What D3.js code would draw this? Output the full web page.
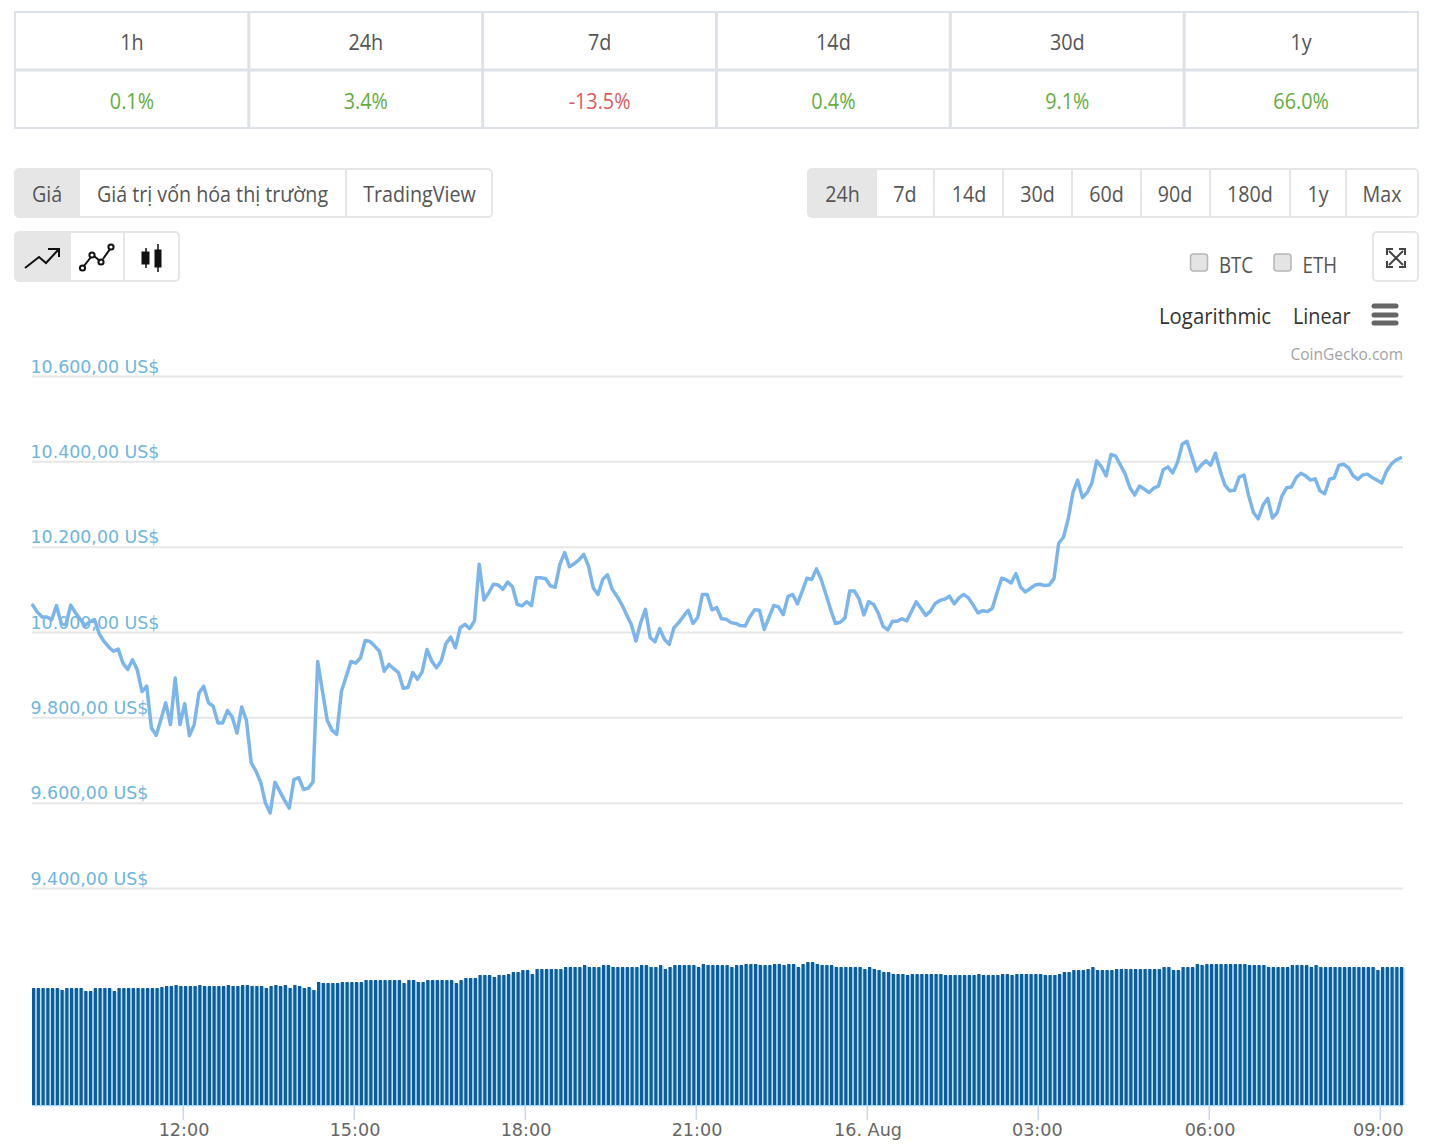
<!DOCTYPE html>
<html><head><meta charset="utf-8">
<script src="https://cdn.jsdelivr.net/npm/d3@7"></script>
<style>html,body{margin:0;padding:0;background:#fff;overflow:hidden}svg{display:block}</style>
</head><body><svg id="c" width="1429" height="1147"></svg>
<script>
const periods=["1h","24h","7d","14d","30d","1y"];
const changes=[0.1,3.4,-13.5,0.4,9.1,66.0];
const viewTabs=["Giá","Giá trị vốn hóa thị trường","TradingView"];
const rangeTabs=["24h","7d","14d","30d","60d","90d","180d","1y","Max"];
const priceTicks=[9400,9600,9800,10000,10200,10400,10600];
const prices=[
10063,10046,10035,10035,10029,10062,10020,10017,10063,10045,
10030,10015,10024,10029,9996,9978,9965,9955,9960,9927,
9912,9935,9912,9860,9873,9775,9758,9795,9834,9783,
9892,9783,9832,9757,9783,9857,9873,9834,9826,9787,
9787,9816,9801,9763,9824,9793,9693,9674,9648,9599,
9576,9648,9627,9606,9587,9654,9659,9631,9634,9648,
9931,9861,9793,9770,9760,9861,9896,9931,9927,9939,
9980,9978,
9967,9955,9908,9924,9914,9905,9868,9870,9905,9889,
9907,9959,9932,9916,9932,9973,9988,9963,10010,10018,10008,10026,10159,
10075,10092,10112,10110,10100,10117,10106,10065,10061,10071,10062,10127,10127,10125,10108,10105,
10159,10186,10153,10160,10169,10182,10155,10104,10088,10123,10134,10100,10084,10065,10041,10018,
9979,10022,10053,9987,9977,10008,9983,9971,10010,10022,10037,10051,10020,10034,10088,10088,
10052,10057,10031,10030,10022,10020,10015,10014,10036,10052,
10051,10006,10034,10062,10059,10041,10083,10088,10066,10096,
10126,10123,10148,10123,10088,10052,10020,10023,10033,10096,
10096,10077,10040,10071,10065,10045,10014,10005,10025,10025,
10031,10026,10048,10071,10055,10039,10049,10067,10074,10077,
10084,10066,10080,10088,10080,10063,10045,10050,10048,10055,
10092,10126,10122,10115,10137,10105,10094,10102,10110,10112,
10109,10110,
10125,10208,10222,10265,10327,10356,10315,10327,10350,10401,
10387,10366,10416,10412,10391,10370,10338,10321,10342,10335,
10327,10337,10342,10380,10387,10373,10397,10440,10447,10412,
10377,10391,10401,10391,10419,10377,10344,10331,10332,10363,
10368,10319,10280,10265,10297,10313,10267,10280,10319,10338,
10340,10362,10372,10366,10356,10359,10331,10324,10358,10361,
10391,10393,10385,10366,10358,10368,10370,10362,10356,10349,
10377,10393,10403,10408];
const volumes=[
117,117,117,117,117,117,115,117,117,117,117,114,114,117,117,117,117,114,
117,117,117,117,117,117,117,117,117,118,119,119,120,119,119,119,119,120,
119,119,119,119,119,120,119,119,120,120,119,119,119,117,119,120,119,120,
117,120,119,117,118,115,123,122,122,122,122,123,123,123,123,123,125,125,
125,125,125,125,125,125,122,125,125,123,123,125,125,125,125,125,125,122,
125,127,127,127,130,130,130,128,130,130,131,133,133,135,135,131,136,136,
136,136,136,136,138,138,138,138,140,138,138,138,140,140,138,138,138,138,
138,138,140,140,138,138,140,136,138,140,140,140,140,140,138,141,140,140,140,
140,140,138,140,140,141,141,141,140,140,140,141,141,140,141,141,138,141,143,143,
141,140,140,140,138,138,138,138,138,138,136,138,136,135,133,133,131,131,131,130,
131,131,131,131,131,131,131,130,130,130,130,130,130,130,131,130,130,130,130,131,131,
130,131,131,131,131,131,131,130,130,130,131,133,133,
135,135,135,136,138,135,135,135,135,136,136,136,136,136,136,136,136,136,136,138,138,
135,135,138,138,138,141,140,141,141,141,141,141,141,141,141,141,140,140,140,140,
138,138,138,138,138,140,140,140,140,138,140,138,138,138,138,138,138,138,138,138,138,138,138,
135,138,138,138,138,138];

const svg=d3.select("#c");
const UI="'Open Sans',sans-serif", CH="'DejaVu Sans',sans-serif";
const border="#dde2e8", tabLine="#e6e6e6", ink="#555";

// the source screenshot is slightly stretched vertically, so UI text is drawn tall and narrow
function ui(parent,str,px,py,anchor,size,fill,sx){
  return parent.append("text").attr("transform",`translate(${px},${py}) scale(${sx},1)`)
    .attr("text-anchor",anchor).attr("font-family",UI).attr("font-size",size).attr("fill",fill).text(str);
}

// change table
const colX=d3.scaleLinear().domain([0,6]).range([15,1418]);
const rows=[12,70,128];
const tbl=svg.append("g");
d3.range(7).forEach(i=>tbl.append("line").attr("x1",colX(i)).attr("x2",colX(i)).attr("y1",11).attr("y2",129)
  .attr("stroke",border).attr("stroke-width",i==0||i==6?2:3));
rows.forEach((r,i)=>tbl.append("line").attr("x1",14).attr("x2",1419).attr("y1",r).attr("y2",r)
  .attr("stroke",border).attr("stroke-width",i==1?3:2));
periods.forEach((p,i)=>{
  const cx=(colX(i)+colX(i+1))/2;
  ui(tbl,p,cx,50,"middle",22,ink,0.9);
  const c=changes[i];
  ui(tbl,c.toFixed(1)+"%",cx,109,"middle",22,c<0?"#de5a5f":"#66ad3e",0.9);
});

function tabGroup(edges,labels,centers,top,bottom,size,sx){
  const g=svg.append("g");
  const a=edges[0],b=edges[edges.length-1];
  g.append("rect").attr("x",a).attr("y",top).attr("width",b-a).attr("height",bottom-top).attr("rx",4)
    .attr("fill","#fff").attr("stroke",tabLine).attr("stroke-width",2);
  g.append("path").attr("d",`M${edges[1]},${top}H${a+4}Q${a},${top} ${a},${top+4}V${bottom-4}Q${a},${bottom} ${a+4},${bottom}H${edges[1]}Z`).attr("fill",tabLine);
  edges.slice(2,-1).forEach(e=>g.append("line").attr("x1",e).attr("x2",e).attr("y1",top).attr("y2",bottom).attr("stroke",tabLine).attr("stroke-width",2));
  labels.forEach((l,i)=>ui(g,l,centers[i],(top+bottom)/2+9,"middle",size,ink,sx));
  return g;
}
tabGroup([15,80,346,492],viewTabs,[47,212.5,419.5],169,217,22,0.895);
tabGroup([808,877,934,1003,1072,1141,1210,1290,1346,1418],rangeTabs,[842.5,905,969,1037.5,1106.5,1175,1250,1318,1382],169,217,22,0.895);
tabGroup([15,71,124,179],[],[],232,281,20,1);

// chart type icons
const ic=svg.append("g").attr("fill","none").attr("stroke","#111").attr("stroke-width",2);
ic.append("path").attr("d","M25,268L39,257L46,263L59,249M48,249H59V257");
ic.append("path").attr("d","M84,266L91,257M94,256L100,261M103,259L110,249");
[[82.5,268],[92,255],[101,262],[111,247]].forEach(p=>ic.append("circle").attr("cx",p[0]).attr("cy",p[1]).attr("r",2.6));
const cn=svg.append("g").attr("fill","#111").attr("stroke","#111");
cn.append("path").attr("d","M146,248V268M158,244V272").attr("stroke-width",1.5);
cn.append("rect").attr("x",142).attr("y",252).attr("width",7).attr("height",12);
cn.append("rect").attr("x",155).attr("y",250).attr("width",6).attr("height",17);

// compare checkboxes
[[1190,"BTC",1219],[1273.5,"ETH",1302.5]].forEach(d=>{
  svg.append("rect").attr("x",d[0]+.5).attr("y",254).attr("width",17).attr("height",17).attr("rx",3).attr("fill","#e4e4e4").attr("stroke","#b5b5b5").attr("stroke-width",1.5);
  ui(svg,d[1],d[2],272.5,"start",22,ink,0.85);
});
// fullscreen button
svg.append("rect").attr("x",1373).attr("y",232).attr("width",45).attr("height",49).attr("rx",4).attr("fill","#fff").attr("stroke",tabLine).attr("stroke-width",2);
const fs=svg.append("g").attr("fill","none").attr("stroke","#444").attr("stroke-width",2);
fs.append("path").attr("d","M1389,251L1403,265M1403,251L1389,265M1387,255V249H1393M1399,249H1405V255M1387,261V267H1393M1399,267H1405V261");
// scale switch
ui(svg,"Logarithmic",1159,323.5,"start",22,"#333",0.925);
ui(svg,"Linear",1293,323.5,"start",22,"#333",0.9);
[306,315,323].forEach(y=>svg.append("line").attr("x1",1374).attr("x2",1396).attr("y1",y).attr("y2",y).attr("stroke","#666").attr("stroke-width",5).attr("stroke-linecap","round"));
ui(svg,"CoinGecko.com",1403,360,"end",16,"#a3a3a3",0.97);

// scales
const t0=new Date(2019,7,15,9,22);
const times=prices.map((_,i)=>new Date(+t0+i*3e5));
const x=d3.scaleTime().domain([t0,times[times.length-1]]).range([32.7,1400.7]);
const y=d3.scaleLinear().domain([9400,10600]).range([888,376]);
const yV=d3.scaleLinear().domain([0,150]).range([1105,955]);
const loc=d3.formatLocale({decimal:",",thousands:".",grouping:[3],currency:["","US$"]});
const fmt=loc.format(",.2f");

// y axis
const ya=svg.append("g").attr("transform","translate(32,0)")
  .call(d3.axisRight(y).tickValues(priceTicks).tickSize(1371).tickFormat(d=>fmt(d)+" US$"));
ya.select(".domain").remove();
ya.selectAll("line").attr("stroke","#e6e6e6").attr("stroke-width",2);
ya.selectAll("text").attr("x",-1.5).attr("dy",-4).attr("text-anchor","start").attr("font-family",CH).attr("font-size",17.4).attr("fill","#6fb5e0");

// volume
const step=x(times[1])-x(times[0]);
const vol=svg.append("g");
vol.append("rect").attr("x",32).attr("y",1104.5).attr("width",1371).attr("height",1.8).attr("fill","#a6d8f7");
vol.selectAll(".g").data(volumes).join("rect").attr("class","g")
  .attr("x",(d,i)=>x(times[i])-0.7).attr("width",Math.min(step,3.2+1.5)).attr("y",d=>yV(d)+1).attr("height",d=>yV(0)-yV(d)-1).attr("fill","#b4e3fd");
vol.selectAll(".b").data(volumes).join("rect").attr("class","b")
  .attr("x",(d,i)=>x(times[i])-0.7).attr("width",3.2).attr("y",d=>yV(d)).attr("height",d=>yV(0)-yV(d)).attr("fill","#0f5c9c");

// x axis
const xTicks=[new Date(2019,7,15,12),new Date(2019,7,15,15),new Date(2019,7,15,18),new Date(2019,7,15,21),new Date(2019,7,16,0),new Date(2019,7,16,3),new Date(2019,7,16,6),new Date(2019,7,16,9)];
const xa=svg.append("g").attr("transform","translate(0,1106)")
  .call(d3.axisBottom(x).tickValues(xTicks).tickSize(14).tickPadding(4)
    .tickFormat(d=>d.getHours()==0?"16. Aug":d3.timeFormat("%H:%M")(d)));
xa.select(".domain").remove();
xa.selectAll("line").attr("stroke","#ccd6eb").attr("stroke-width",1.5);
xa.selectAll("text").attr("font-family",CH).attr("font-size",17.6).attr("fill","#666")
  .attr("dx",d=>d.getDate()==16&&d.getHours()==9?-2:(d.getDate()==16&&d.getHours()==3?-1:0.7));

// price line
svg.append("path").datum(prices)
  .attr("d",d3.line().x((d,i)=>x(times[i])).y(d=>y(d)))
  .attr("fill","none").attr("stroke","#7cb5ec").attr("stroke-width",3.5).attr("stroke-linejoin","round").attr("stroke-linecap","round");
if(prices.length!==volumes.length)console.error("lengths",prices.length,volumes.length);
</script></body></html>
